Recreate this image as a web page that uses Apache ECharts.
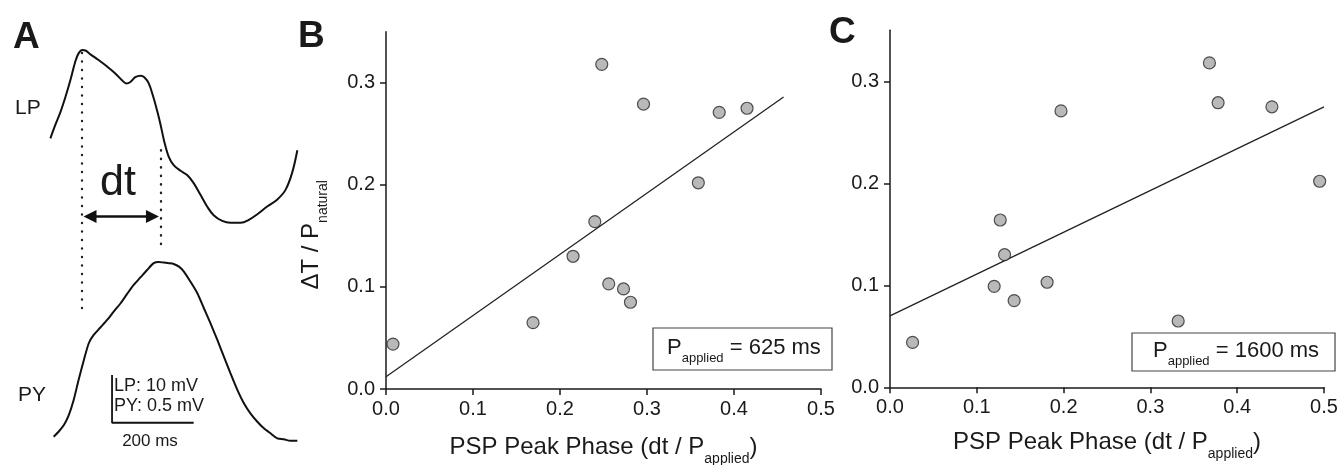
<!DOCTYPE html>
<html>
<head>
<meta charset="utf-8">
<script src="https://cdn.jsdelivr.net/npm/echarts@6/dist/echarts.min.js"></script>
<style>
html,body{margin:0;padding:0;background:#fff;}
#chart{width:1341px;height:465px;}
</style>
</head>
<body>
<div id="chart"></div>
<script>
// ---------- Panel A: example traces (time in ms, relative potential in mV) ----------
const lpTime = [0, 12, 25, 37, 49, 61, 69, 78, 86, 98, 118, 138, 159, 176, 186, 196, 208, 221, 230, 241, 252, 262, 270, 279, 290, 302, 319, 335, 351, 368, 384, 400, 421, 441, 466, 486, 507, 531, 556, 576, 592, 605];
const lpMv = [17.4, 20.2, 23.0, 26.1, 29.6, 33.5, 35.2, 35.9, 35.8, 35.0, 33.8, 32.5, 31.0, 29.5, 28.9, 29.2, 30.2, 30.5, 30.2, 28.9, 26.1, 23.0, 20.2, 16.7, 13.5, 11.8, 10.6, 9.7, 8.0, 5.5, 3.1, 1.3, 0.1, -0.3, -0.3, 0.3, 1.5, 3.1, 4.6, 6.6, 10.1, 14.9];
const pyTime = [8, 20, 33, 45, 57, 69, 82, 94, 106, 123, 139, 155, 172, 188, 204, 221, 237, 253, 265, 278, 290, 302, 315, 327, 343, 360, 376, 392, 409, 425, 441, 458, 474, 490, 507, 523, 539, 556, 572, 588, 605];
const pyMv = [0.044, 0.096, 0.167, 0.271, 0.429, 0.638, 0.848, 1.023, 1.110, 1.191, 1.267, 1.354, 1.442, 1.540, 1.634, 1.715, 1.791, 1.862, 1.875, 1.868, 1.862, 1.854, 1.826, 1.774, 1.669, 1.547, 1.390, 1.233, 1.058, 0.883, 0.709, 0.534, 0.394, 0.289, 0.201, 0.132, 0.080, 0.027, 0.017, 0.002, 0.002];
const lpPeakTime = 78;     // ms
const pyPeakTime = 270;    // ms
// dotted drop lines (LP mV units): [time, top, bottom]
const dropLines = [[lpPeakTime, 35.3, -18.6], [pyPeakTime, 14.9, -6.4]];
// dt arrow (PY mV units)
const arrowSpan = [97, 250];
const arrowLevel = 2.35;
// scale bar: 200 ms, 0.5 mV (PY) / 10 mV (LP)
const scaleBarMs = 200;
const scaleBarPyMv = 0.5;
const scaleBarOrigin = [151, 0.19];

// ---------- Panel B: P_applied = 625 ms ----------
const phaseB = [0.008, 0.169, 0.215, 0.240, 0.248, 0.256, 0.273, 0.281, 0.296, 0.359, 0.383, 0.415];
const deltaB = [0.044, 0.065, 0.130, 0.164, 0.318, 0.103, 0.098, 0.085, 0.279, 0.202, 0.271, 0.275];
const fitBx = [0, 0.457];
const fitBy = [0.012, 0.286];

// ---------- Panel C: P_applied = 1600 ms ----------
const phaseC = [0.026, 0.120, 0.127, 0.132, 0.143, 0.181, 0.197, 0.332, 0.368, 0.378, 0.440, 0.495];
const deltaC = [0.044, 0.099, 0.164, 0.130, 0.085, 0.103, 0.271, 0.065, 0.318, 0.279, 0.275, 0.202];
const fitCx = [0, 0.5];
const fitCy = [0.070, 0.275];

// ---------- ticks ----------
const xTicks = [0, 0.1, 0.2, 0.3, 0.4, 0.5];
const yTicks = [0, 0.1, 0.2, 0.3];

const zip = (a, b) => a.map((v, i) => [v, b[i]]);
const FONT = '"Liberation Sans", Arial, Helvetica, sans-serif';
const INK = '#1a1a1a';

const nameRich = {
  a: { fontSize: 24, lineHeight: 24, fontFamily: FONT, color: INK, verticalAlign: 'top' },
  s: { fontSize: 14, lineHeight: 31, fontFamily: FONT, color: INK, verticalAlign: 'bottom', padding: [17, 0, 0, 0] }
};

function scatterAxes(gridIndex, withYName, xNameGap) {
  const common = {
    gridIndex: gridIndex,
    type: 'value',
    axisLine: { show: true, onZero: false, lineStyle: { color: INK, width: 1.5 } },
    axisTick: { show: true, inside: false, length: 6, lineStyle: { color: INK, width: 1.5 } },
    splitLine: { show: false },
    axisLabel: { fontSize: 20, color: INK, fontFamily: FONT, formatter: v => v.toFixed(1) }
  };
  const x = Object.assign({}, common, {
    min: 0, max: 0.5, interval: 0.1,
    axisTick: Object.assign({}, common.axisTick, { customValues: xTicks }),
    axisLabel: Object.assign({}, common.axisLabel, { margin: 10, customValues: xTicks }),
    name: '{a|PSP Peak Phase (dt / P}{s|applied}{a|)}',
    nameLocation: 'middle',
    nameGap: xNameGap,
    nameTextStyle: { color: INK, rich: nameRich }
  });
  const y = Object.assign({}, common, {
    min: 0, max: 0.35,
    axisTick: Object.assign({}, common.axisTick, { customValues: yTicks }),
    axisLabel: Object.assign({}, common.axisLabel, { margin: 11, customValues: yTicks })
  });
  if (withYName) {
    Object.assign(y, {
      name: '{a|ΔT / P}{s|natural}',
      nameLocation: 'middle',
      nameRotate: 90,
      nameGap: 56,
      nameTextStyle: { color: INK, padding: [0, 49, 0, 0], rich: nameRich }
    });
  }
  return { x, y };
}

const axB = scatterAxes(1, true, 46);
const axC = scatterAxes(2, false, 43);

const dotStyle = {
  symbol: 'circle', symbolSize: 12,
  itemStyle: { color: '#a8a8a8', borderColor: '#2a2a2a', borderWidth: 1.2 }
};

function legendBox(x, y, w, h, tx, ty, label) {
  return {
    type: 'group',
    children: [
      { type: 'rect', shape: { x: x, y: y, width: w, height: h },
        style: { fill: '#fff', stroke: '#444', lineWidth: 1.2 } },
      { type: 'text', x: tx, y: ty,
        style: {
          text: '{a|P}{s|applied}{a| = ' + label + '}',
          align: 'left', textAlign: 'left', verticalAlign: 'top', textVerticalAlign: 'top',
          fill: INK,
          rich: {
            a: { fontSize: 22, lineHeight: 22, fontFamily: FONT, fill: INK, verticalAlign: 'top' },
            s: { fontSize: 13, lineHeight: 28, fontFamily: FONT, fill: INK, verticalAlign: 'bottom', padding: [15, 0, 0, 0] }
          }
        } }
    ]
  };
}

function txt(x, y, s, size, opts) {
  opts = opts || {};
  return {
    type: 'text', x: x, y: y, z: 10,
    style: {
      text: s,
      font: (opts.bold ? 'bold ' : '') + size + 'px ' + FONT,
      fill: INK,
      align: opts.align || 'left', textAlign: opts.align || 'left',
      verticalAlign: 'middle', textVerticalAlign: 'middle'
    }
  };
}

const option = {
  animation: false,
  backgroundColor: '#ffffff',
  grid: [
    { left: 30, top: 40, width: 280, height: 420, outerBoundsMode: 'none' },
    { left: 386, top: 31.7, width: 435, height: 357.3, outerBoundsMode: 'none' },
    { left: 890, top: 30.3, width: 434, height: 357, outerBoundsMode: 'none' }
  ],
  xAxis: [
    { gridIndex: 0, type: 'value', min: -50, max: 636, show: false },
    axB.x,
    axC.x
  ],
  yAxis: [
    { gridIndex: 0, type: 'value', min: -50, max: 38, show: false },
    { gridIndex: 0, type: 'value', min: -0.2, max: 4.2, show: false },
    axB.y,
    axC.y
  ],
  series: [
    {
      name: 'LP', type: 'line', xAxisIndex: 0, yAxisIndex: 0,
      data: zip(lpTime, lpMv), smooth: 0.35, showSymbol: false, silent: true,
      lineStyle: { color: '#111', width: 2 },
      markLine: {
        silent: true, symbol: ['none', 'none'],
        label: { show: false },
        lineStyle: { color: '#222', width: 2.4, type: [0.2, 8.3], cap: 'round' },
        data: dropLines.map(d => [{ coord: [d[0], d[1]] }, { coord: [d[0], d[2]] }])
      }
    },
    {
      name: 'PY', type: 'line', xAxisIndex: 0, yAxisIndex: 1,
      data: zip(pyTime, pyMv), smooth: 0.25, showSymbol: false, silent: true,
      lineStyle: { color: '#111', width: 2 },
      markLine: {
        silent: true, symbol: ['triangle', 'triangle'], symbolSize: 13,
        label: { show: false },
        itemStyle: { color: '#111' },
        lineStyle: { color: '#111', width: 2.6, type: 'solid' },
        data: [[{ coord: [arrowSpan[0], arrowLevel] }, { coord: [arrowSpan[1], arrowLevel] }]]
      }
    },
    {
      name: 'scale', type: 'line', xAxisIndex: 0, yAxisIndex: 1, silent: true,
      data: [
        [scaleBarOrigin[0], scaleBarOrigin[1] + scaleBarPyMv],
        [scaleBarOrigin[0], scaleBarOrigin[1]],
        [scaleBarOrigin[0] + scaleBarMs, scaleBarOrigin[1]]
      ],
      showSymbol: false, lineStyle: { color: '#111', width: 1.8 }
    },
    {
      name: 'fitB', type: 'line', xAxisIndex: 1, yAxisIndex: 2, silent: true,
      data: zip(fitBx, fitBy), showSymbol: false, lineStyle: { color: '#222', width: 1.3 }, z: 2
    },
    Object.assign({ name: 'B', type: 'scatter', xAxisIndex: 1, yAxisIndex: 2, data: zip(phaseB, deltaB), z: 3, silent: true }, dotStyle),
    {
      name: 'fitC', type: 'line', xAxisIndex: 2, yAxisIndex: 3, silent: true,
      data: zip(fitCx, fitCy), showSymbol: false, lineStyle: { color: '#222', width: 1.3 }, z: 2
    },
    Object.assign({ name: 'C', type: 'scatter', xAxisIndex: 2, yAxisIndex: 3, data: zip(phaseC, deltaC), z: 3, silent: true }, dotStyle)
  ],
  graphic: [
    txt(13, 38, 'A', 37, { bold: true }),
    txt(298, 37, 'B', 37, { bold: true }),
    txt(829, 33, 'C', 37, { bold: true }),
    txt(15, 108, 'LP', 21),
    txt(18, 395, 'PY', 21),
    txt(118, 183, 'dt', 43, { align: 'center' }),
    txt(114, 386, 'LP: 10 mV', 18),
    txt(114, 406, 'PY: 0.5 mV', 18),
    txt(150, 441, '200 ms', 17, { align: 'center' }),
    legendBox(653, 328, 179, 42, 667, 337, '625 ms'),
    legendBox(1132, 333, 203, 38, 1153, 340, '1600 ms')
  ]
};

const chart = echarts.init(document.getElementById('chart'), null, { renderer: 'canvas' });
chart.setOption(option);
</script>
</body>
</html>
